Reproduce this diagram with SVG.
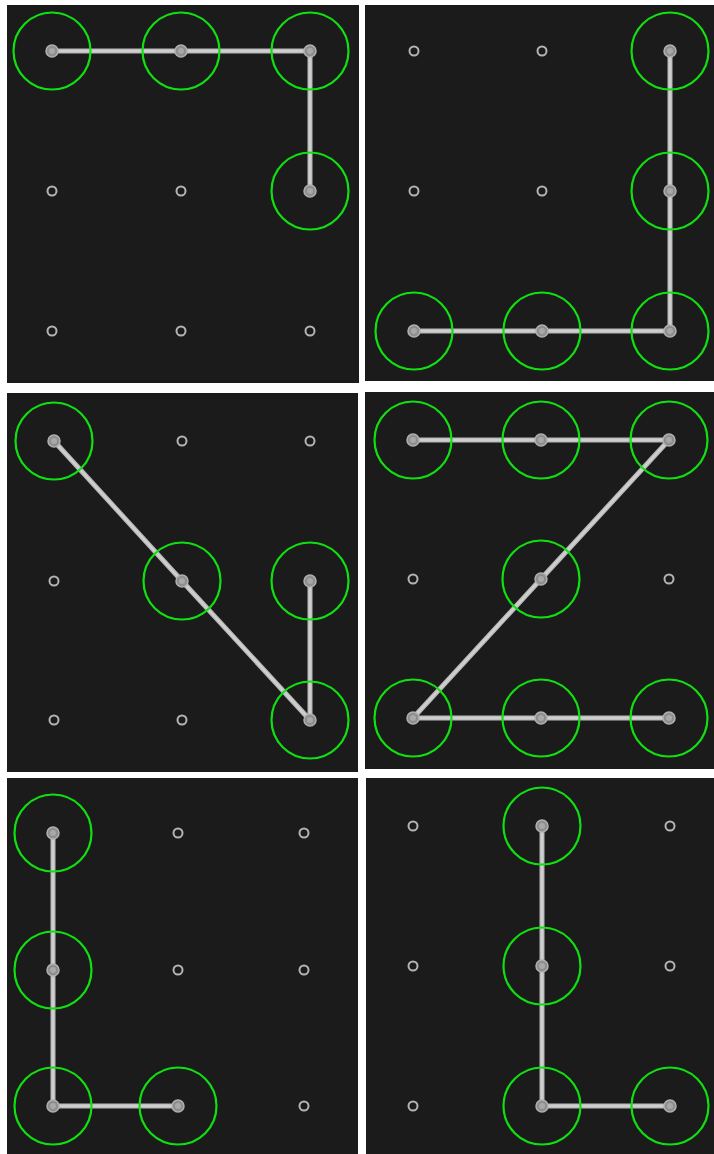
<svg xmlns="http://www.w3.org/2000/svg" xmlns:xlink="http://www.w3.org/1999/xlink" width="714" height="1154" viewBox="0 0 714 1154">
<style>
.panel{fill:#1b1b1b}
.dot{fill:none;stroke:#b4b4b4;stroke-width:2}
.sel{fill:#8e8e8e;stroke:#b0b0b0;stroke-width:1.5}
.ring{fill:none;stroke:#10e010;stroke-width:2.2}
.line{fill:none;stroke:#b8b8b8;stroke-width:5;stroke-linecap:butt;stroke-linejoin:miter}
.core{fill:none;stroke:#cfcfcf;stroke-width:2.5;stroke-linejoin:miter}
</style>
<defs>
<g id="d"><circle class="dot" r="4.5"/></g>
<g id="s"><circle class="ring" r="38.5"/></g>
<g id="sd"><circle class="sel" r="6"/><circle r="3" fill="#a8a8a8"/></g>
</defs>
<rect width="714" height="1154" fill="#ffffff"/>
<rect class="panel" x="7" y="5" width="352" height="378"/>
<rect class="panel" x="365" y="5" width="349" height="376"/>
<rect class="panel" x="7" y="393" width="351" height="379"/>
<rect class="panel" x="365" y="392" width="349" height="377"/>
<rect class="panel" x="7" y="778" width="351" height="376"/>
<rect class="panel" x="366" y="778" width="348" height="376"/>

<g id="connectors">
<polyline class="line" points="52,51 181,51 310,51 310,191"/>
<polyline class="line" points="670,51 670,191 670,331 542,331 414,331"/>
<polyline class="line" points="54,441 182,581 310,720 310,581"/>
<polyline class="line" points="413,440 541,440 669,440 541,579 413,718 541,718 669,718"/>
<polyline class="line" points="53,833 53,970 53,1106 178,1106"/>
<polyline class="line" points="542,826 542,966 542,1106 670,1106"/>
<polyline class="core" points="52,51 181,51 310,51 310,191"/>
<polyline class="core" points="670,51 670,191 670,331 542,331 414,331"/>
<polyline class="core" points="54,441 182,581 310,720 310,581"/>
<polyline class="core" points="413,440 541,440 669,440 541,579 413,718 541,718 669,718"/>
<polyline class="core" points="53,833 53,970 53,1106 178,1106"/>
<polyline class="core" points="542,826 542,966 542,1106 670,1106"/>
</g>

<g id="panel1">
<g id="p1-n00"><use href="#s" x="52" y="51"/><use href="#sd" x="52" y="51"/></g>
<g id="p1-n10"><use href="#s" x="181" y="51"/><use href="#sd" x="181" y="51"/></g>
<g id="p1-n20"><use href="#s" x="310" y="51"/><use href="#sd" x="310" y="51"/></g>
<g id="p1-n01"><use href="#d" x="52" y="191"/></g>
<g id="p1-n11"><use href="#d" x="181" y="191"/></g>
<g id="p1-n21"><use href="#s" x="310" y="191"/><use href="#sd" x="310" y="191"/></g>
<g id="p1-n02"><use href="#d" x="52" y="331"/></g>
<g id="p1-n12"><use href="#d" x="181" y="331"/></g>
<g id="p1-n22"><use href="#d" x="310" y="331"/></g>
</g>

<g id="panel2">
<g id="p2-n00"><use href="#d" x="414" y="51"/></g>
<g id="p2-n10"><use href="#d" x="542" y="51"/></g>
<g id="p2-n20"><use href="#s" x="670" y="51"/><use href="#sd" x="670" y="51"/></g>
<g id="p2-n01"><use href="#d" x="414" y="191"/></g>
<g id="p2-n11"><use href="#d" x="542" y="191"/></g>
<g id="p2-n21"><use href="#s" x="670" y="191"/><use href="#sd" x="670" y="191"/></g>
<g id="p2-n02"><use href="#s" x="414" y="331"/><use href="#sd" x="414" y="331"/></g>
<g id="p2-n12"><use href="#s" x="542" y="331"/><use href="#sd" x="542" y="331"/></g>
<g id="p2-n22"><use href="#s" x="670" y="331"/><use href="#sd" x="670" y="331"/></g>
</g>

<g id="panel3">
<g id="p3-n00"><use href="#s" x="54" y="441"/><use href="#sd" x="54" y="441"/></g>
<g id="p3-n10"><use href="#d" x="182" y="441"/></g>
<g id="p3-n20"><use href="#d" x="310" y="441"/></g>
<g id="p3-n01"><use href="#d" x="54" y="581"/></g>
<g id="p3-n11"><use href="#s" x="182" y="581"/><use href="#sd" x="182" y="581"/></g>
<g id="p3-n21"><use href="#s" x="310" y="581"/><use href="#sd" x="310" y="581"/></g>
<g id="p3-n02"><use href="#d" x="54" y="720"/></g>
<g id="p3-n12"><use href="#d" x="182" y="720"/></g>
<g id="p3-n22"><use href="#s" x="310" y="720"/><use href="#sd" x="310" y="720"/></g>
</g>

<g id="panel4">
<g id="p4-n00"><use href="#s" x="413" y="440"/><use href="#sd" x="413" y="440"/></g>
<g id="p4-n10"><use href="#s" x="541" y="440"/><use href="#sd" x="541" y="440"/></g>
<g id="p4-n20"><use href="#s" x="669" y="440"/><use href="#sd" x="669" y="440"/></g>
<g id="p4-n01"><use href="#d" x="413" y="579"/></g>
<g id="p4-n11"><use href="#s" x="541" y="579"/><use href="#sd" x="541" y="579"/></g>
<g id="p4-n21"><use href="#d" x="669" y="579"/></g>
<g id="p4-n02"><use href="#s" x="413" y="718"/><use href="#sd" x="413" y="718"/></g>
<g id="p4-n12"><use href="#s" x="541" y="718"/><use href="#sd" x="541" y="718"/></g>
<g id="p4-n22"><use href="#s" x="669" y="718"/><use href="#sd" x="669" y="718"/></g>
</g>

<g id="panel5">
<g id="p5-n00"><use href="#s" x="53" y="833"/><use href="#sd" x="53" y="833"/></g>
<g id="p5-n10"><use href="#d" x="178" y="833"/></g>
<g id="p5-n20"><use href="#d" x="304" y="833"/></g>
<g id="p5-n01"><use href="#s" x="53" y="970"/><use href="#sd" x="53" y="970"/></g>
<g id="p5-n11"><use href="#d" x="178" y="970"/></g>
<g id="p5-n21"><use href="#d" x="304" y="970"/></g>
<g id="p5-n02"><use href="#s" x="53" y="1106"/><use href="#sd" x="53" y="1106"/></g>
<g id="p5-n12"><use href="#s" x="178" y="1106"/><use href="#sd" x="178" y="1106"/></g>
<g id="p5-n22"><use href="#d" x="304" y="1106"/></g>
</g>

<g id="panel6">
<g id="p6-n00"><use href="#d" x="413" y="826"/></g>
<g id="p6-n10"><use href="#s" x="542" y="826"/><use href="#sd" x="542" y="826"/></g>
<g id="p6-n20"><use href="#d" x="670" y="826"/></g>
<g id="p6-n01"><use href="#d" x="413" y="966"/></g>
<g id="p6-n11"><use href="#s" x="542" y="966"/><use href="#sd" x="542" y="966"/></g>
<g id="p6-n21"><use href="#d" x="670" y="966"/></g>
<g id="p6-n02"><use href="#d" x="413" y="1106"/></g>
<g id="p6-n12"><use href="#s" x="542" y="1106"/><use href="#sd" x="542" y="1106"/></g>
<g id="p6-n22"><use href="#s" x="670" y="1106"/><use href="#sd" x="670" y="1106"/></g>
</g>
</svg>
